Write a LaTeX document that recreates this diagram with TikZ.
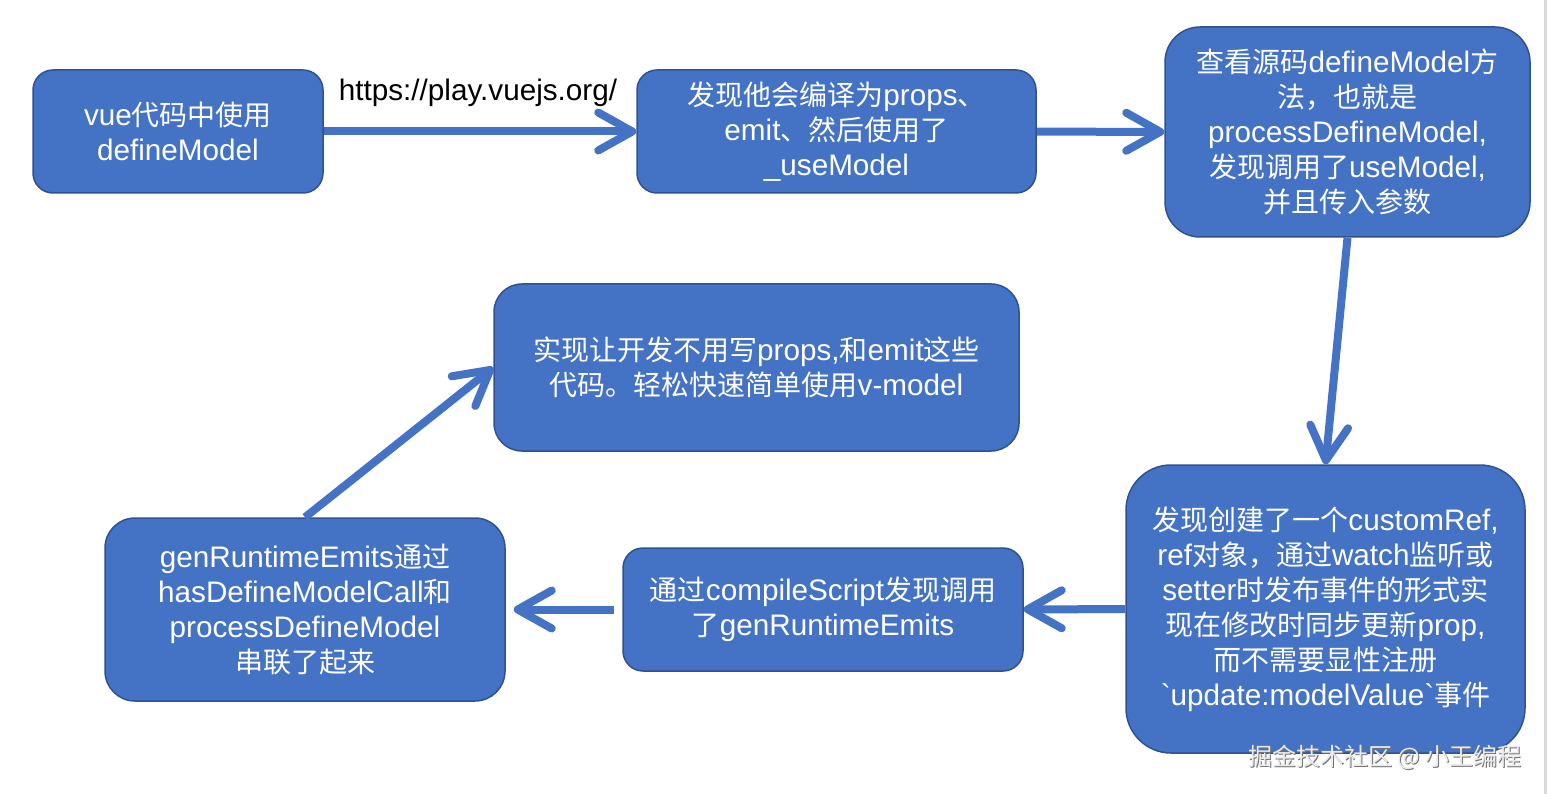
\documentclass[tikz,border=0pt]{standalone}
\usepackage{fontspec}
\usetikzlibrary{arrows.meta}
\newfontfamily\lsans{Liberation Sans}[Scale=1.06]
\newfontfamily\zhfont{Noto Sans CJK SC}
\newcommand{\zh}[1]{{\zhfont #1}}
\definecolor{boxblue}{HTML}{4472C4}
\definecolor{boxline}{HTML}{2F528F}

\begin{document}
\begin{tikzpicture}[x=1pt,y=-1pt,
	box/.style={draw=boxline,line width=1.5pt,fill=boxblue,text=white,align=center,
		inner sep=0pt,font=\lsans\fontsize{28}{35}\selectfont},
	flow/.style={draw=boxblue,line width=8pt,-{Straight Barb[length=34pt,width=38pt,round]}},
	urltext/.style={text=black,font=\lsans\fontsize{28}{35}\selectfont},
	watermark/.style={font=\zhfont\fontsize{24}{24}\selectfont}]
		\useasboundingbox (0,0) rectangle (1550,794);
		
		% top row
		\node[box,minimum width=290pt,minimum height=123pt,rounded corners=20pt] (vue) at (178,131.5)
			{vue\zh{代码中使用}\\defineModel};
		\node[box,minimum width=399pt,minimum height=123pt,rounded corners=20pt] (usemodel) at (836.5,131.5)
			{\zh{发现他会编译为}props\zh{、}\\emit\zh{、然后使用了}\\\_useModel};
		\node[box,minimum width=365pt,minimum height=210pt,rounded corners=35pt] (source) at (1347.5,132)
			{\zh{查看源码}defineModel\zh{方}\\\zh{法，也就是}\\processDefineModel,\\\zh{发现调用了}useModel,\\\zh{并且传入参数}};
		
		% middle
		\node[box,minimum width=525pt,minimum height=167pt,rounded corners=28pt] (goal) at (756.5,367.5)
			{\zh{实现让开发不用写}props,\zh{和}emit\zh{这些}\\\zh{代码。轻松快速简单使用}v-model};
		
		% bottom row
		\node[box,minimum width=399pt,minimum height=288pt,rounded corners=45pt] (customref) at (1325.5,609)
			{\zh{发现创建了一个}customRef,\\ref\zh{对象，通过}watch\zh{监听或}\\setter\zh{时发布事件的形式实}\\\zh{现在修改时同步更新}prop,\\\zh{而不需要显性注册}\\\symbol{96}update:modelValue\symbol{96}\zh{事件}};
		\node[box,minimum width=400pt,minimum height=123pt,rounded corners=20pt] (compile) at (823,609.5)
			{\zh{通过}compileScript\zh{发现调用}\\\zh{了}genRuntimeEmits};
		\node[box,minimum width=400pt,minimum height=183pt,rounded corners=30pt] (chain) at (305,609.5)
			{genRuntimeEmits\zh{通过}\\hasDefineModelCall\zh{和}\\processDefineModel\\\zh{串联了起来}};
		
		% arrows
		\draw[flow] (vue) -- (usemodel);
		\node[urltext] (url) at (478,93) {https://play.vuejs.org/};
		\draw[flow] (usemodel) -- (source);
		\draw[flow] (source.south) -- (customref.north);
		\draw[flow] (customref) -- (compile);
		\draw[flow,shorten <=8pt,shorten >=8pt] (compile) -- (chain);
		\draw[flow] (chain.north) -- (goal.west);
		
		% page edge and watermark
		\draw[gray!30,line width=3pt] (1545,0) -- (1545,794);
		\node[watermark,text=black!55] at (1386,758) {掘金技术社区 @ 小王编程};
		\node[watermark,text=black!8] (credit) at (1385,757) {掘金技术社区 @ 小王编程};
\end{tikzpicture}
\end{document}
